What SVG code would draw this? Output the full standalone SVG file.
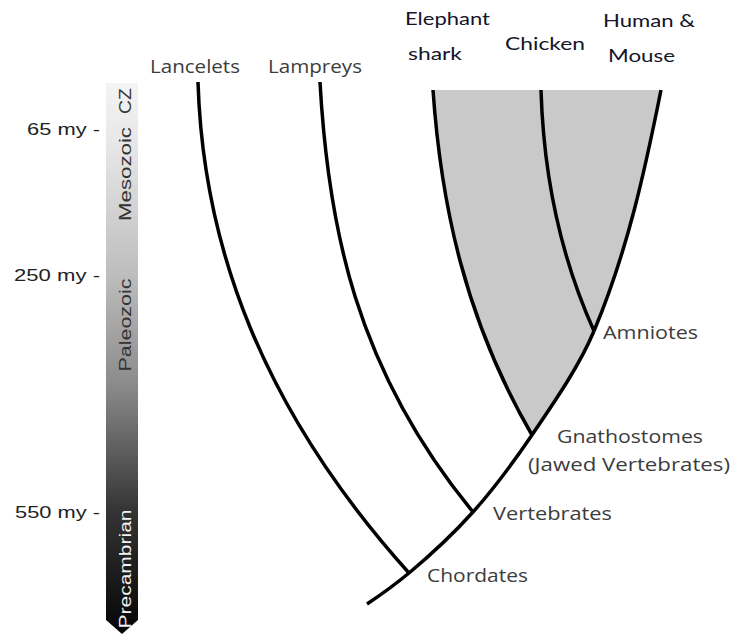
<svg xmlns="http://www.w3.org/2000/svg" width="732" height="636" viewBox="0 0 732 636">
  <defs>
    <linearGradient id="timeGrad" gradientUnits="userSpaceOnUse" x1="0" y1="83" x2="0" y2="634">
      <stop offset="0" stop-color="#f4f4f4"/>
      <stop offset="0.12" stop-color="#e6e6e6"/>
      <stop offset="0.35" stop-color="#bdbdbd"/>
      <stop offset="0.55" stop-color="#8a8a8a"/>
      <stop offset="0.78" stop-color="#333333"/>
      <stop offset="1" stop-color="#050505"/>
    </linearGradient>
    <style>
      .age { font-family: "Liberation Sans", Arial, sans-serif; font-size: 17px; fill: #222; }
      .era { font-family: "Liberation Sans", Arial, sans-serif; font-size: 17px; fill: #333; }
      .era-dark { fill: #f2f2f2; }
      .taxon { font-family: Lato, "Liberation Sans", sans-serif; font-size: 18px; fill: #15152a; }
      .clade { font-family: "Open Sans", "DejaVu Sans", sans-serif; font-size: 19px; fill: #3c3c3c; }
      .edge { fill: none; stroke: #000; stroke-width: 3.5; }
      .shade { fill: #c9c9c9; stroke: none; }
    </style>
  </defs>
  <rect width="732" height="636" fill="#ffffff"/>

  <!-- time scale -->
  <g id="timescale">
    <path d="M106,83 H138 V620 L122,634 L106,620 Z" fill="url(#timeGrad)"/>
    <text class="age" x="27" y="135" textLength="73" lengthAdjust="spacingAndGlyphs">65 my -</text>
    <text class="age" x="14" y="281" textLength="86" lengthAdjust="spacingAndGlyphs">250 my -</text>
    <text class="age" x="15" y="518" textLength="85" lengthAdjust="spacingAndGlyphs">550 my -</text>
    <text class="era" transform="translate(131,101) rotate(-90)" text-anchor="middle" textLength="26" lengthAdjust="spacingAndGlyphs">CZ</text>
    <text class="era" transform="translate(131,174) rotate(-90)" text-anchor="middle" textLength="94" lengthAdjust="spacingAndGlyphs">Mesozoic</text>
    <text class="era" transform="translate(131,325) rotate(-90)" text-anchor="middle" textLength="93" lengthAdjust="spacingAndGlyphs">Paleozoic</text>
    <text class="era era-dark" transform="translate(131,569) rotate(-90)" text-anchor="middle" textLength="119" lengthAdjust="spacingAndGlyphs">Precambrian</text>
  </g>

  <!-- shaded jawed-vertebrate clade -->
  <path id="gnathostome-shade" class="shade" d="M433,90 L661,90 C645,170 627.6,251 594,331 C579.4,365.7 555.6,400.3 532,435 C465.3,320 441,205 433,90 Z"/>

  <!-- connectors -->
  <g id="connectors">
    <path class="edge" d="M198,82 C203,245.7 261.7,409.3 409,573"/>
    <path class="edge" d="M320,82 C328,225.3 355,368.7 473,512"/>
    <path class="edge" d="M433,90 C441,205 465.3,320 532,435"/>
    <path class="edge" d="M541,90 C543.4,170 558,251 594,331"/>
    <path class="edge" d="M661,90 C645,170 627.6,251 594,331"/>
    <path class="edge" d="M594,331 C579.4,365.7 555.6,400.3 532,435 C514.5,460.7 496.1,486.3 473,512 C454.7,532.3 433.4,552.7 409,573 C396.6,583.3 382.5,593.7 367,604"/>
  </g>

  <!-- leaf nodes -->
  <g id="lancelets"><text class="clade" x="150" y="73" textLength="90" lengthAdjust="spacingAndGlyphs">Lancelets</text></g>
  <g id="lampreys"><text class="clade" x="268" y="73" textLength="94" lengthAdjust="spacingAndGlyphs">Lampreys</text></g>
  <g id="elephant-shark">
    <text class="taxon" x="405" y="25" textLength="85" lengthAdjust="spacingAndGlyphs">Elephant</text>
    <text class="taxon" x="408" y="60" textLength="54" lengthAdjust="spacingAndGlyphs">shark</text>
  </g>
  <g id="chicken"><text class="taxon" x="505" y="50" textLength="80" lengthAdjust="spacingAndGlyphs">Chicken</text></g>
  <g id="human-mouse">
    <text class="taxon" x="603" y="27" textLength="92" lengthAdjust="spacingAndGlyphs">Human &amp;</text>
    <text class="taxon" x="608" y="62" textLength="67" lengthAdjust="spacingAndGlyphs">Mouse</text>
  </g>

  <!-- internal nodes -->
  <g id="amniotes"><text class="clade" x="603" y="339" textLength="95" lengthAdjust="spacingAndGlyphs">Amniotes</text></g>
  <g id="gnathostomes">
    <text class="clade" x="557" y="443" textLength="146" lengthAdjust="spacingAndGlyphs">Gnathostomes</text>
    <text class="clade" x="528" y="471" textLength="202" lengthAdjust="spacingAndGlyphs">(Jawed Vertebrates)</text>
  </g>
  <g id="vertebrates"><text class="clade" x="493" y="520" textLength="119" lengthAdjust="spacingAndGlyphs">Vertebrates</text></g>
  <g id="chordates"><text class="clade" x="427" y="582" textLength="101" lengthAdjust="spacingAndGlyphs">Chordates</text></g>
</svg>
